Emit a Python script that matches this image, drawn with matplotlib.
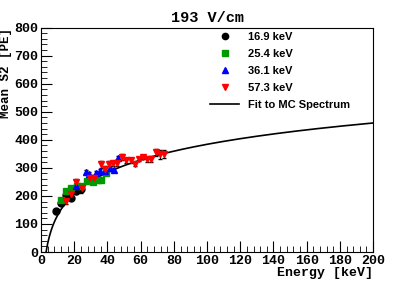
import numpy as np
import matplotlib
matplotlib.use("Agg")
import matplotlib.pyplot as plt
from matplotlib.ticker import MultipleLocator
from matplotlib.lines import Line2D

# data
e169_x = [9.2, 12.2, 15.3, 18.3, 21.3, 24.0]
e169_y = [145, 176, 205, 194, 218, 224]
e169_err = [8, 8, 9, 8, 10, 12]

e254_x = [12.2, 15.3, 18.3, 21.7, 24.3, 27.7, 31.3, 34.5, 36.3, 39.0]
e254_y = [187, 217, 228, 235, 236, 252, 249, 258, 256, 282]
e254_err = [6, 6, 6, 6, 6, 6, 6, 6, 6, 6]

e361_x = [21.3, 26.9, 29.0, 33.3, 35.3, 38.4, 41.4, 44.0, 46.4]
e361_y = [234, 285, 279, 280, 288, 290, 298, 292, 336]
e361_err = [8, 8, 8, 8, 8, 8, 8, 8, 8]

e573_x = [15.3, 17.9, 21.3, 24.9, 29.3, 31.9, 36.0, 38.6, 41.0, 43.4, 45.9,
          48.6, 51.4, 54.0, 56.4, 59.0, 61.4, 64.0, 66.5, 69.0, 71.5, 74.0]
e573_y = [181, 207, 249, 229, 264, 264, 312, 296, 315, 316, 318,
          339, 327, 327, 314, 332, 339, 330, 332, 356, 348, 350]
e573_err = [10, 10, 12, 12, 10, 10, 14, 10, 10, 10, 10,
            10, 8, 8, 8, 8, 8, 10, 10, 12, 16, 14]

# fit to MC spectrum: S2 = a*ln(E/E0)
fit_a = 109.5
fit_e0 = 3.0

mono = "Liberation Mono"
sans = "Liberation Sans"

fig = plt.figure(figsize=(4.15, 2.81), dpi=100)
ax = fig.add_axes([0.099, 0.103, 0.80, 0.799])

ex = np.linspace(fit_e0, 200, 400)
ax.plot(ex, fit_a * np.log(ex / fit_e0), color="black", lw=1.2, zorder=1)

series = [
    (e169_x, e169_y, e169_err, "o", "black", "16.9 keV"),
    (e254_x, e254_y, e254_err, "s", "#009900", "25.4 keV"),
    (e361_x, e361_y, e361_err, "^", "blue", "36.1 keV"),
    (e573_x, e573_y, e573_err, "v", "red", "57.3 keV"),
]
handles = []
for x, y, err, m, c, lab in series:
    ax.errorbar(x, y, yerr=err, fmt=m, color=c, ms=5, mec=c,
                ecolor="black", elinewidth=0.8, capsize=1.5, zorder=2)
    handles.append(Line2D([], [], ls="none", marker=m, color=c, ms=4.5, label=lab))
handles.append(Line2D([], [], color="black", lw=1.2, label="Fit to MC Spectrum"))

ax.set_xlim(0, 200)
ax.set_ylim(0, 800)
ax.xaxis.set_major_locator(MultipleLocator(20))
ax.xaxis.set_minor_locator(MultipleLocator(4))
ax.yaxis.set_major_locator(MultipleLocator(100))
ax.yaxis.set_minor_locator(MultipleLocator(20))
ax.tick_params(which="major", direction="in", length=8, width=0.8, labelsize=9.5, pad=2)
ax.tick_params(which="minor", direction="in", length=4, width=0.6)
ax.tick_params(top=False, right=False)
for lbl in ax.get_xticklabels() + ax.get_yticklabels():
    lbl.set_fontfamily(mono)
    lbl.set_fontweight("bold")
for s in ax.spines.values():
    s.set_linewidth(0.8)

ax.set_xlabel("Energy [keV]", fontfamily=mono, fontweight="bold", fontsize=9.5,
              loc="right", labelpad=0)
ax.set_ylabel("Mean S2 [PE]", fontfamily=mono, fontweight="bold", fontsize=9,
              loc="top", labelpad=2)
ax.set_title("193 V/cm", fontfamily=mono, fontweight="bold", fontsize=11, pad=4)

ax.legend(handles=handles, loc="upper right", bbox_to_anchor=(0.955, 1.015),
          frameon=False, prop={"family": sans, "weight": "bold", "size": 8},
          handlelength=2.6, labelspacing=0.62, borderaxespad=0.3)

fig.savefig("out.png", dpi=100)
